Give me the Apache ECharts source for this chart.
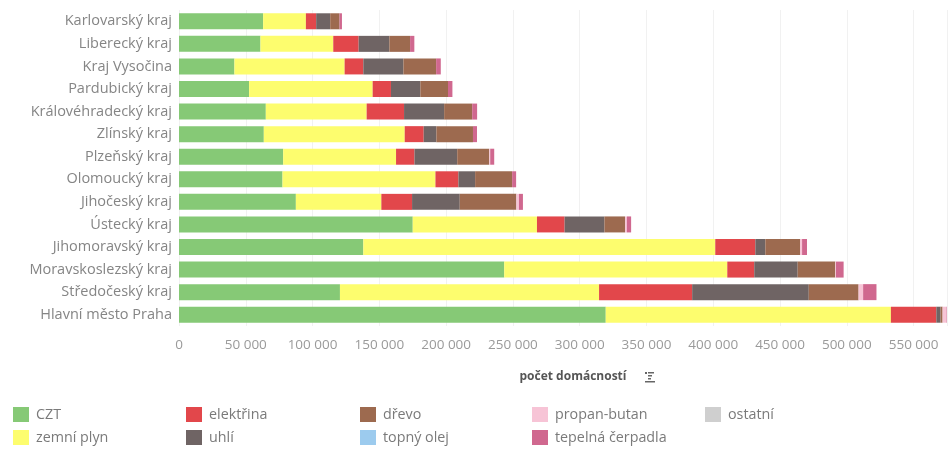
<!DOCTYPE html>
<html>
<head>
<meta charset="utf-8">
<script src="https://cdn.jsdelivr.net/npm/echarts@6/dist/echarts.min.js"></script>
<style>
html,body{margin:0;padding:0;background:#fff;}
#chart{width:949px;height:450px;}
</style>
</head>
<body>
<div id="chart"></div>
<script>
var categories = ['Karlovarský kraj','Liberecký kraj','Kraj Vysočina','Pardubický kraj','Královéhradecký kraj','Zlínský kraj','Plzeňský kraj','Olomoucký kraj','Jihočeský kraj','Ústecký kraj','Jihomoravský kraj','Moravskoslezský kraj','Středočeský kraj','Hlavní město Praha'];
var czt        = [63000, 61000, 41500, 52500, 65000, 63500, 78000, 77500, 87500, 175000, 138000, 243500, 120500, 319500];
var zemniPlyn  = [32000, 54500, 82500, 92500, 75500, 105500, 84500, 114500, 64000, 93000, 263500, 167000, 194000, 213500];
var elektrina  = [7700, 19000, 14000, 13700, 28000, 14200, 13800, 17200, 23000, 20700, 30000, 20200, 69700, 34000];
var uhli       = [10500, 23000, 30000, 22000, 30000, 9500, 32000, 12500, 35700, 29800, 7500, 32500, 87300, 3200];
var drevo      = [7000, 15500, 24500, 20700, 21000, 27400, 24000, 27700, 42400, 15500, 26000, 28200, 37300, 1500];
var topnyOlej  = [0, 0, 0, 0, 0, 0, 0, 0, 0, 0, 0, 0, 0, 0];
var propanButan= [0, 0, 0, 0, 0, 0, 700, 0, 1900, 1300, 1500, 500, 3400, 3000];
var tepelnaCerpadla = [1800, 3200, 3500, 3300, 3700, 3000, 3000, 3000, 3000, 3200, 3700, 5700, 10000, 6000];
var ostatni    = [0, 0, 0, 0, 0, 0, 0, 0, 0, 0, 0, 0, 0, 0];
var xTicks = [0, 50000, 100000, 150000, 200000, 250000, 300000, 350000, 400000, 450000, 500000, 550000];

var seriesDefs = [
  ['CZT', czt, '#86c976'],
  ['zemní plyn', zemniPlyn, '#fdfd6e'],
  ['elektřina', elektrina, '#e2474b'],
  ['uhlí', uhli, '#6f6464'],
  ['dřevo', drevo, '#9d6a4f'],
  ['topný olej', topnyOlej, '#9ccbee'],
  ['propan-butan', propanButan, '#f7c4d6'],
  ['tepelná čerpadla', tepelnaCerpadla, '#d0688f'],
  ['ostatní', ostatni, '#cfcfcf']
];

function fmt(v){
  if (xTicks.indexOf(v) < 0) return '';
  return String(v).replace(/\B(?=(\d{3})+(?!\d))/g, ' ');
}

var font = '"Open Sans", sans-serif';
var legendBase = {
  orient: 'vertical', top: 407, padding: 0, itemWidth: 16, itemHeight: 15, itemGap: 8,
  icon: 'rect', textStyle: {color: '#7a7a7a', fontSize: 14.3, fontFamily: font, padding: [0,0,0,2]}
};
function lg(left, data){ return Object.assign({}, legendBase, {left: left, data: data}); }

var chart = echarts.init(document.getElementById('chart'), null, {renderer: 'canvas'});
chart.setOption({
  animation: false,
  backgroundColor: '#fff',
  textStyle: {fontFamily: font},
  grid: {left: 179, right: 2, top: 10, height: 316},
  legend: [
    lg(13, ['CZT','zemní plyn']),
    lg(186, ['elektřina','uhlí']),
    lg(360, ['dřevo','topný olej']),
    lg(532, ['propan-butan','tepelná čerpadla']),
    lg(705, ['ostatní'])
  ],
  xAxis: {
    type: 'value', min: 0, max: 575000, interval: 50000,
    axisLine: {show: false}, axisTick: {show: false},
    splitLine: {show: true, lineStyle: {color: '#f1f1f1', width: 1}},
    axisLabel: {color: '#9a9a9a', fontSize: 13.5, fontFamily: font, margin: 12, formatter: fmt, showMaxLabel: false},
    name: 'počet domácností',
    nameLocation: 'middle', nameGap: 45,
    nameTextStyle: {color: '#555', fontSize: 12, fontWeight: 'bold', fontFamily: font, padding: [0,0,0,20]}
  },
  yAxis: {
    type: 'category', data: categories, inverse: true,
    axisLine: {show: false}, axisTick: {show: false},
    axisLabel: {color: '#858585', fontSize: 14.5, fontFamily: font, margin: 7}
  },
  graphic: [{
    type: 'group', left: 645, top: 372,
    children: [
      {type: 'rect', shape: {x: 0, y: 0, width: 2, height: 2}, style: {fill: '#666'}},
      {type: 'rect', shape: {x: 3, y: 0, width: 6, height: 1.5}, style: {fill: '#666'}},
      {type: 'rect', shape: {x: 3, y: 3, width: 4, height: 1.5}, style: {fill: '#666'}},
      {type: 'rect', shape: {x: 3, y: 6, width: 3, height: 1.5}, style: {fill: '#666'}},
      {type: 'rect', shape: {x: 0, y: 9, width: 10, height: 1.5}, style: {fill: '#666'}}
    ]
  }],
  series: seriesDefs.map(function(d){
    return {
      name: d[0], type: 'bar', stack: 'total', data: d[1], barWidth: 16,
      itemStyle: {color: d[2]}, clip: true,
      emphasis: {disabled: true}
    };
  })
});
</script>
</body>
</html>
